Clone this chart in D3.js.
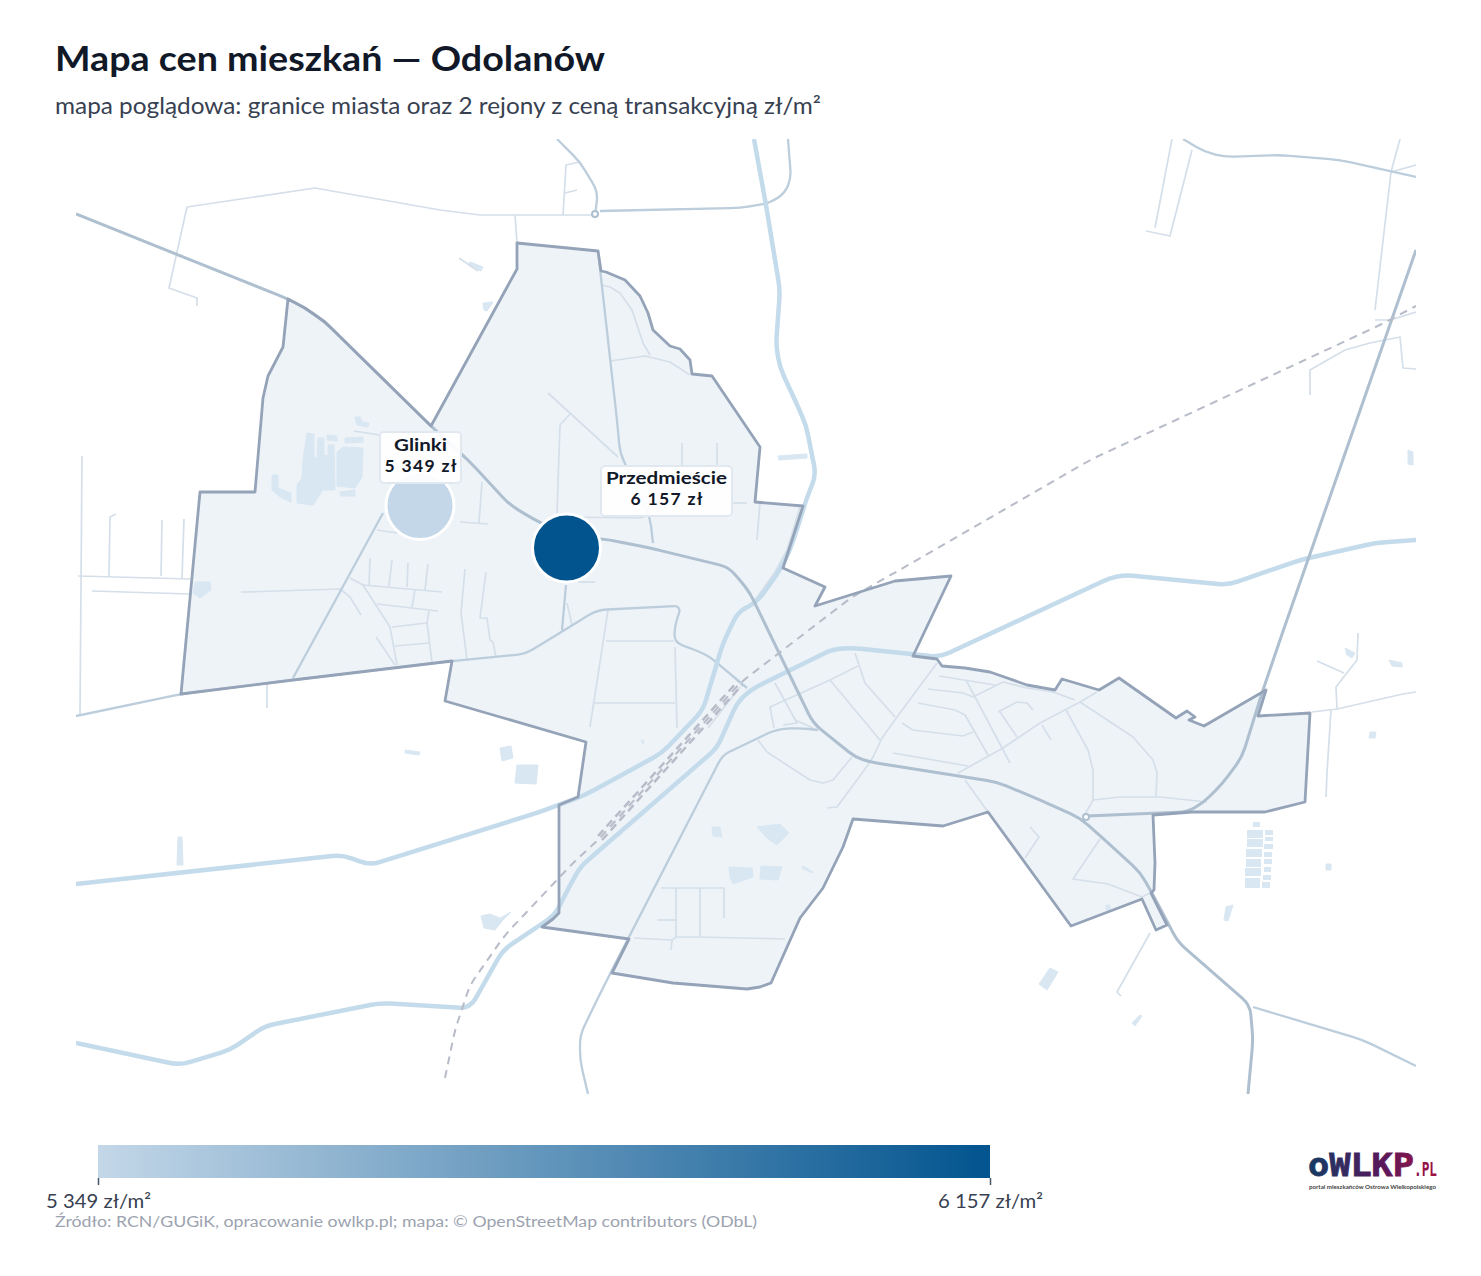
<!DOCTYPE html>
<html lang="pl">
<head>
<meta charset="utf-8">
<title>Mapa cen mieszkań — Odolanów</title>
<script src="https://d3js.org/d3.v7.min.js"></script>
<style>
  body { margin: 0; padding: 0; background: #fff; }
  text { font-family: Lato, "Open Sans", sans-serif; }
</style>
</head>
<body>
<div id="chart"></div>
<script>
// districts and prices
var districtNames = ["Glinki", "Przedmieście"];
var districtPrices = [5349, 6157];
var districtPoints = [[420, 505.5], [566.5, 548]];
var labelCenters = [[420.5, 457.5], [666.5, 491]];
var labelSizes = [[81, 51], [131, 50]];
var nameWidths = [53, 121];
var priceWidths = [72, 72];

var cityBoundary = [[181,694],[200,492],[255,492],[263,398],[268,376],[283,347],[288,299],[305,308],[325,322],[431,426],[517,269],[517,243],[598,251],[601,271],[606,272],[625,280],[640,296],[648,313],[653,330],[670,346],[680,349],[690,360],[692,374],[712,376],[760,447],[755,502],[803,506],[783,568],[825,587],[815,606],[895,581],[951,576],[913,656],[937,659],[942,666],[965,668],[990,672],[1027,685],[1055,690],[1062,679],[1099,690],[1119,678],[1176,718],[1187,711],[1195,717],[1189,720],[1204,726],[1266,690],[1258,716],[1310,713],[1305,802],[1265,812],[1192,812],[1153,815],[1155,863],[1154,890],[1151,893],[1167,925],[1156,930],[1142,899],[1071,926],[988,812],[943,826],[853,819],[843,847],[823,888],[800,918],[771,983],[760,987],[747,989],[673,983],[612,973],[629,939],[542,927],[553,919],[559,913],[559,805],[578,797],[586,742],[445,701],[452,661],[293,680]];

var majorRoads = [
  [[754,139],[766,205],[780,290],[776,345],[780,368],[795,400],[806,425],[816,475],[806,500],[800,520],[790,550],[780,570],[757,602],[738,612],[723,643],[703,710],[662,753],[585,795],[540,812],[370,865],[342,855],[76,884]],
  [[1416,540],[1375,543],[1300,560],[1228,585],[1125,575],[1110,578],[940,657],[853,648],[833,649],[750,690],[737,703],[717,748],[580,867],[565,895],[555,915],[503,950],[473,1003],[465,1008],[380,1003],[265,1026],[230,1050],[180,1065],[76,1043]]
];

var secondaryRoads = [
  [[76,214],[288,299],[305,308],[325,322],[431,426],[470,462],[510,505],[535,520],[566,535],[610,540],[650,548],[728,567],[740,580],[750,593],[813,723],[855,757],[870,762],[997,782],[1040,800],[1080,818],[1097,833],[1140,872],[1153,895],[1178,942],[1250,1005],[1253,1040],[1248,1094]],
  [[1416,250],[1280,640],[1263,690],[1242,757],[1223,783],[1203,803],[1187,812],[1087,816]]
];

var tertiaryRoads = [
  [[1253,1007],[1363,1040],[1416,1066]],
  [[588,1094],[580,1060],[580,1035],[597,1000],[612,970],[720,760],[725,754],[777,729],[800,728],[818,730]],
  [[598,251],[617,420],[620,453],[650,517],[653,543]],
  [[76,716],[181,694],[293,680],[452,661],[525,654],[540,645],[597,610],[677,606],[680,610],[675,625],[674,642],[700,652],[710,657],[747,688]],
  [[293,678],[383,513]],
  [[566,585],[562,630]],
  [[557,139],[580,162],[598,192],[595,215]],
  [[600,211],[740,208],[770,203],[785,193],[791,178],[788,139]],
  [[1183,139],[1205,152],[1225,157],[1280,155],[1340,160],[1416,177]]
];

var minorRoads = [
  [[187,207],[315,188],[440,210],[480,215],[595,215]],
  [[187,207],[169,288],[197,298],[197,306]],
  [[515,215],[517,243]],[[563,215],[566,165],[580,162]],[[565,193],[577,190]],
  [[1172,139],[1155,228]],[[1192,150],[1170,236],[1146,231]],
  [[1400,139],[1391,172],[1375,310]],[[1391,172],[1416,165]],
  [[82,456],[80,716]],[[78,576],[190,579]],[[92,591],[190,594]],[[109,576],[110,517],[116,514]],[[161,576],[162,520]],[[182,578],[184,519]],
  [[267,708],[267,684]],
  [[241,592],[247,592],[340,589],[350,597],[361,615]],
  [[350,578],[363,585],[390,627],[397,665]],
  [[363,585],[442,592]],[[370,558],[369,585]],[[392,560],[389,586]],[[408,563],[407,587]],[[428,564],[425,590]],
  [[415,590],[412,607]],[[377,604],[438,611]],[[429,611],[427,623],[432,662]],[[392,627],[427,623]],[[395,646],[429,643]],[[376,637],[395,665]],
  [[465,569],[461,613],[467,660]],[[486,572],[480,618],[487,618],[490,640],[493,642],[496,657]],
  [[482,482],[479,523]],[[460,522],[488,524]],[[377,530],[397,533]],[[354,431],[380,435]],
  [[548,393],[618,457]],[[570,414],[560,425],[557,513]],
  [[602,285],[610,287],[620,293],[632,310],[643,343],[650,355]],
  [[610,361],[645,356],[670,362],[690,375]],
  [[682,443],[682,467]],[[717,443],[717,467]],[[732,503],[747,503]],[[760,503],[757,540]],
  [[800,507],[787,550],[775,572],[755,600]],
  [[560,517],[640,518],[650,515]],[[578,582],[595,582]],[[567,603],[572,625]],
  [[608,610],[590,727]],[[606,641],[674,641]],[[593,703],[675,703]],[[675,647],[677,728]],[[740,687],[708,728]],
  [[855,653],[865,683],[895,717]],[[830,680],[880,740]],[[858,666],[830,680],[770,707],[774,728]],
  [[775,683],[797,723],[783,725]],[[795,720],[813,728]],
  [[937,663],[897,717],[882,738],[873,757],[868,765],[837,807],[827,808]],
  [[758,740],[767,752],[810,780],[823,783],[833,780],[852,757]],
  [[893,753],[968,766]],[[958,773],[1003,748],[1040,723],[1080,702],[1097,692]],
  [[939,676],[995,685]],[[928,689],[963,693],[973,697]],[[918,703],[955,710],[965,715],[988,755]],
  [[902,723],[913,730],[963,736],[973,732]],[[966,680],[1010,763]],
  [[973,697],[1003,682],[1027,688],[1053,692],[1075,700]],
  [[998,712],[1017,702],[1027,703],[1033,710]],[[1000,712],[1017,737]],[[1042,725],[1051,740]],
  [[1066,710],[1088,750],[1093,770],[1093,800]],
  [[1080,702],[1133,737],[1153,760],[1157,773],[1156,797]],
  [[1083,818],[1093,800],[1120,797],[1160,797],[1207,802]],
  [[965,780],[988,812]],[[1030,827],[1039,837],[1025,858]],
  [[1100,839],[1073,879],[1108,884],[1142,897],[1152,892]],
  [[661,888],[724,888],[724,918]],[[676,888],[676,937]],[[700,888],[700,937]],[[657,920],[676,920]],
  [[634,938],[672,940],[676,937],[700,937],[785,939]],[[672,940],[671,950]],
  [[1326,797],[1327,773],[1331,710]],[[1312,712],[1337,709],[1403,694],[1416,692]],
  [[1337,709],[1336,687],[1357,660],[1358,633]],[[1317,661],[1344,673]],
  [[1150,933],[1117,992],[1121,996]],
  [[1310,395],[1310,370],[1345,350],[1370,343],[1400,337],[1403,368],[1416,369]],
  [[1375,320],[1390,320],[1416,312]],
  [[459,258],[478,271]]
];

var roundabouts = [[595,214],[1086,817]];

var railway = [
  [[445,1078],[455,1030],[470,985],[505,935],[573,863],[600,838],[740,683],[852,597],[917,560],[1090,460],[1380,325],[1416,306]]
];
var railwayYard = [
  [[598,836],[738,681]],[[602,840],[742,685]]
];

var builtAreas = [
  [[307,433],[314,434],[314,458],[317,458],[318,438],[324,438],[324,455],[328,456],[328,445],[334,445],[335,490],[323,490],[313,505],[297,503],[297,485],[302,478],[303,460]],
  [[337,452],[343,447],[363,448],[362,477],[355,488],[337,486]],
  [[345,438],[363,437],[363,442],[345,443]],[[327,435],[337,436],[337,441],[327,440]],
  [[355,417],[360,417],[362,422],[369,423],[368,427],[357,425]],
  [[272,475],[278,475],[278,488],[291,493],[291,502],[280,497],[272,490]],
  [[340,492],[355,490],[355,496],[341,496]],
  [[195,582],[210,582],[211,590],[200,598],[193,593]],
  [[500,748],[511,746],[513,758],[502,761]],[[517,765],[538,765],[536,784],[515,783]],
  [[405,750],[420,752],[419,755],[405,753]],[[178,837],[182,837],[183,865],[177,865]],
  [[481,916],[490,914],[500,918],[511,912],[503,920],[495,930],[484,928]],
  [[470,262],[483,267],[481,271],[468,265]],[[483,303],[493,302],[487,311],[484,310]],
  [[778,456],[807,454],[807,458],[779,460]],[[1408,450],[1413,452],[1413,465],[1408,464]],
  [[1345,648],[1355,653],[1352,658],[1347,655]],[[1389,660],[1402,663],[1402,667],[1392,666]],
  [[1370,732],[1376,732],[1375,738],[1369,738]],
  [[712,827],[720,827],[722,837],[713,836]],[[757,827],[780,824],[789,833],[777,845],[768,839]],
  [[729,867],[752,868],[753,877],[733,884],[730,877]],[[761,866],[782,867],[778,880],[760,879]],
  [[803,866],[813,872],[812,873],[802,868]],[[641,740],[644,741],[643,744]],
  [[1226,907],[1233,905],[1228,921],[1224,920]],[[1050,968],[1058,972],[1047,990],[1039,984]],
  [[1140,1015],[1142,1016],[1135,1026],[1132,1023]],[[1326,864],[1331,864],[1331,870],[1326,870]],
  [[1106,905],[1110,905],[1110,910],[1106,910]]
];
var buildingBlocks = [
  [1247,830,1263,838],[1247,839,1263,847],[1246,849,1262,857],[1246,859,1261,867],[1245,868,1261,876],[1245,878,1260,888],
  [1265,830,1273,835],[1265,837,1273,841],[1264,844,1273,849],[1264,852,1272,857],[1264,859,1272,864],[1264,867,1271,872],[1263,875,1271,880],[1262,882,1270,888],
  [1253,822,1260,827]
];

var svg = d3.select("#chart").append("svg")
  .attr("width", 1481)
  .attr("height", 1276)
  .style("display", "block");

// title block
svg.append("text").attr("x", 55).attr("y", 71)
  .attr("font-size", 35).attr("font-weight", 700).attr("fill", "#111827")
  .attr("textLength", 550).attr("lengthAdjust", "spacingAndGlyphs")
  .text("Mapa cen mieszkań — Odolanów");
svg.append("text").attr("x", 55).attr("y", 114)
  .attr("font-size", 23.5).attr("fill", "#374151")
  .attr("textLength", 766).attr("lengthAdjust", "spacingAndGlyphs")
  .text("mapa poglądowa: granice miasta oraz 2 rejony z ceną transakcyjną zł/m²");

// map
var x = d3.scaleLinear().domain([76, 1416]).range([76, 1416]);
var y = d3.scaleLinear().domain([139, 1094]).range([139, 1094]);
var line = d3.line().x(function(d) { return x(d[0]); }).y(function(d) { return y(d[1]); });

// straight stretches with rounded bends, catmull-rom wobbled too much
function roundedLine(pts) {
  var r = 10, p = d3.path();
  var s = pts.map(function(d) { return [x(d[0]), y(d[1])]; });
  p.moveTo(s[0][0], s[0][1]);
  for (var i = 1; i < s.length - 1; i++) {
    var a = s[i - 1], c = s[i], b = s[i + 1];
    var d1 = Math.hypot(a[0] - c[0], a[1] - c[1]);
    var d2 = Math.hypot(b[0] - c[0], b[1] - c[1]);
    var k = Math.min(r, d1 / 2, d2 / 2);
    p.lineTo(c[0] + (a[0] - c[0]) * k / d1, c[1] + (a[1] - c[1]) * k / d1);
    p.quadraticCurveTo(c[0], c[1], c[0] + (b[0] - c[0]) * k / d2, c[1] + (b[1] - c[1]) * k / d2);
  }
  p.lineTo(s[s.length - 1][0], s[s.length - 1][1]);
  return p.toString();
}

svg.append("clipPath").attr("id", "mapClip").append("rect")
  .attr("x", x(76)).attr("y", y(139))
  .attr("width", x(1416) - x(76)).attr("height", y(1094) - y(139));

var map = svg.append("g").attr("clip-path", "url(#mapClip)");

map.append("path").datum(cityBoundary)
  .attr("d", function(d) { return line(d) + "Z"; })
  .attr("fill", "#eef3f8");

map.selectAll(".area").data(builtAreas).enter().append("path")
  .attr("class", "area")
  .attr("d", function(d) { return line(d) + "Z"; })
  .attr("fill", "#d9e7f2")
  .attr("stroke", "#d9e7f2")
  .attr("stroke-linejoin", "round");
map.selectAll(".block").data(buildingBlocks).enter().append("rect")
  .attr("class", "block")
  .attr("x", function(d) { return x(d[0]); })
  .attr("y", function(d) { return y(d[1]); })
  .attr("width", function(d) { return x(d[2]) - x(d[0]); })
  .attr("height", function(d) { return y(d[3]) - y(d[1]); })
  .attr("fill", "#d9e7f2");

function drawLines(name, rows, gen, color, width, dash) {
  map.selectAll("." + name).data(rows).enter().append("path")
    .attr("class", name)
    .attr("d", gen)
    .attr("fill", "none")
    .attr("stroke", color)
    .attr("stroke-width", width)
    .attr("stroke-linejoin", "round")
    .attr("stroke-dasharray", dash || null);
}

drawLines("minor", minorRoads, line, "#d4dfe9", 1.7);
drawLines("tertiary", tertiaryRoads, roundedLine, "#bccddc", 2.3);
drawLines("major", majorRoads, roundedLine, "#c3dbeb", 4.5);
drawLines("secondary", secondaryRoads, roundedLine, "#aebfcf", 3);
map.selectAll(".roundabout").data(roundabouts).enter().append("circle")
  .attr("class", "roundabout")
  .attr("cx", function(d) { return x(d[0]); })
  .attr("cy", function(d) { return y(d[1]); })
  .attr("r", 3)
  .attr("fill", "#fff")
  .attr("stroke", "#aebfcf")
  .attr("stroke-width", 2);
drawLines("yard", railwayYard, line, "#b8bcc8", 2.5, "8 5");
drawLines("rail", railway, roundedLine, "#b8bcc8", 2, "8 6");

map.append("path").datum(cityBoundary)
  .attr("d", function(d) { return line(d) + "Z"; })
  .attr("fill", "none")
  .attr("stroke", "#94a3b8")
  .attr("stroke-width", 2.8)
  .attr("stroke-linejoin", "round");

// district dots and labels
var color = d3.scaleLinear().domain(districtPrices).range(["#c3d7e8", "#02548f"]);
var priceText = function(v) { return String(v).replace(/(\d)(\d{3})$/, "$1 $2"); };

svg.selectAll(".dot").data(districtNames).enter().append("circle")
  .attr("class", "dot")
  .attr("cx", function(d, i) { return x(districtPoints[i][0]); })
  .attr("cy", function(d, i) { return y(districtPoints[i][1]); })
  .attr("r", 34)
  .attr("fill", function(d, i) { return color(districtPrices[i]); })
  .attr("stroke", "#fff")
  .attr("stroke-width", 3);

var labels = svg.selectAll(".label").data(districtNames).enter().append("g")
  .attr("class", "label")
  .attr("transform", function(d, i) { return "translate(" + x(labelCenters[i][0]) + "," + y(labelCenters[i][1]) + ")"; });
labels.append("rect")
  .attr("x", function(d, i) { return -labelSizes[i][0] / 2; })
  .attr("y", function(d, i) { return -labelSizes[i][1] / 2; })
  .attr("width", function(d, i) { return labelSizes[i][0]; })
  .attr("height", function(d, i) { return labelSizes[i][1]; })
  .attr("rx", 4)
  .attr("fill", "#fff").attr("fill-opacity", 0.92)
  .attr("stroke", "#e2e8f0").attr("stroke-width", 2);
labels.append("text").attr("text-anchor", "middle").attr("y", -7)
  .attr("font-size", 17.5).attr("font-weight", 700).attr("fill", "#111827")
  .attr("textLength", function(d, i) { return nameWidths[i]; }).attr("lengthAdjust", "spacingAndGlyphs")
  .text(function(d) { return d; });
labels.append("text").attr("text-anchor", "middle").attr("y", 14)
  .attr("font-size", 17.5).attr("font-weight", 700).attr("fill", "#111827")
  .attr("textLength", function(d, i) { return priceWidths[i]; }).attr("lengthAdjust", "spacing")
  .text(function(d, i) { return priceText(districtPrices[i]) + " zł"; });

// colour legend
var legendX = d3.scaleLinear().domain(districtPrices).range([98, 990]);
var grad = svg.append("defs").append("linearGradient").attr("id", "legendGrad");
grad.append("stop").attr("offset", "0%").attr("stop-color", color(districtPrices[0]));
grad.append("stop").attr("offset", "100%").attr("stop-color", color(districtPrices[1]));
svg.append("rect").attr("x", legendX(5349)).attr("y", 1145)
  .attr("width", legendX(6157) - legendX(5349)).attr("height", 33)
  .attr("fill", "url(#legendGrad)");

var legendAxis = svg.append("g").attr("transform", "translate(0,1178)")
  .call(d3.axisBottom(legendX).tickValues(districtPrices).tickSize(7).tickPadding(9)
    .tickFormat(function(d) { return priceText(d) + " zł/m²"; }));
legendAxis.select(".domain").remove();
legendAxis.selectAll("line").attr("stroke", "#475569").attr("stroke-width", 1.5);
legendAxis.selectAll("text").attr("font-size", 19.5).attr("fill", "#374151")
  .attr("textLength", 105).attr("lengthAdjust", "spacingAndGlyphs")
  .style("font-family", 'Lato, sans-serif');

svg.append("text").attr("x", 55).attr("y", 1227)
  .attr("font-size", 15.5).attr("fill", "#9ca3af")
  .attr("textLength", 702).attr("lengthAdjust", "spacingAndGlyphs")
  .text("Źródło: RCN/GUGiK, opracowanie owlkp.pl; mapa: © OpenStreetMap contributors (ODbL)");

// logo
var logoGrad = svg.select("defs").append("linearGradient").attr("id", "logoGrad")
  .attr("gradientUnits", "userSpaceOnUse").attr("x1", 1309).attr("x2", 1437).attr("y1", 0).attr("y2", 0);
logoGrad.append("stop").attr("offset", "0%").attr("stop-color", "#153a63");
logoGrad.append("stop").attr("offset", "55%").attr("stop-color", "#55195c");
logoGrad.append("stop").attr("offset", "100%").attr("stop-color", "#a3123f");
svg.append("text").attr("x", 1308).attr("y", 1175.5)
  .attr("font-size", 32).attr("font-weight", 700).attr("fill", "url(#logoGrad)")
  .attr("stroke", "url(#logoGrad)").attr("stroke-width", 0.8)
  .attr("textLength", 106).attr("lengthAdjust", "spacingAndGlyphs")
  .style("font-family", '"DejaVu Sans Mono", monospace')
  .text("oWLKP");
svg.append("text").attr("x", 1414).attr("y", 1175.5)
  .attr("font-size", 20).attr("font-weight", 700).attr("fill", "url(#logoGrad)")
  .attr("textLength", 23).attr("lengthAdjust", "spacingAndGlyphs")
  .style("font-family", '"DejaVu Sans Mono", monospace')
  .text(".PL");
svg.append("text").attr("x", 1309).attr("y", 1188.5)
  .attr("font-size", 5.5).attr("font-weight", 700).attr("fill", "#444")
  .attr("textLength", 127).attr("lengthAdjust", "spacingAndGlyphs")
  .text("portal mieszkańców Ostrowa Wielkopolskiego");
</script>
</body>
</html>
